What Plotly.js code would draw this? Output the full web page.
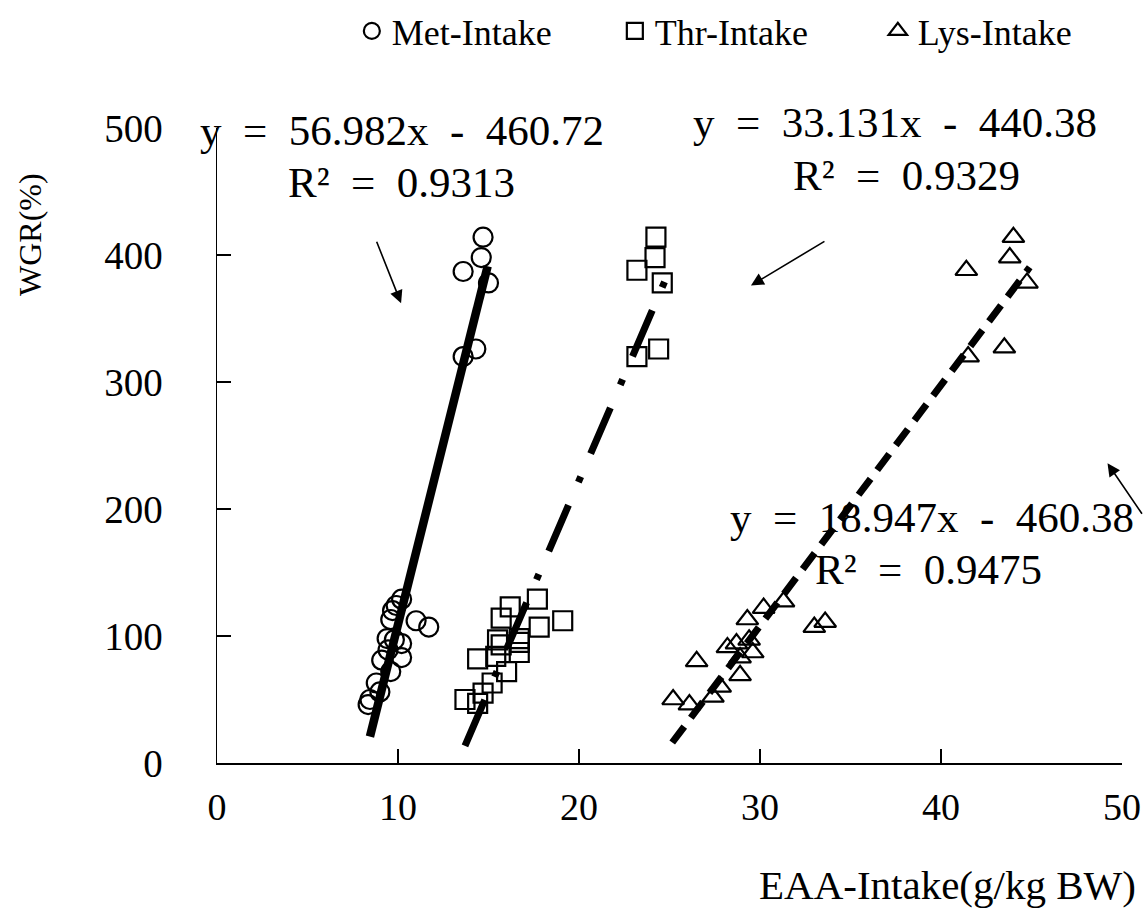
<!DOCTYPE html>
<html><head><meta charset="utf-8">
<script src="https://cdn.plot.ly/plotly-3.0.1.min.js"></script>
<style>body{margin:0;background:#fff}#chart{width:1143px;height:909px}</style>
</head><body><div id="chart"></div><script>
// Met-Intake (circles)
var metX = [14.7,14.6,13.6,15.0,14.3,13.6,10.2,9.9,9.7,9.6,11.0,11.7,9.4,9.8,10.2,9.45,10.2,9.1,9.6,8.8,9.0,8.45,8.35];
var metY = [414,398,387,378,326,320,129,124,120,113,112,107,98,97,94,89,83,81,72,63,56,50,46];
// Thr-Intake (squares)
var thrX = [24.25,24.2,23.2,24.6,24.4,23.2,17.7,16.2,15.7,17.8,19.1,15.5,16.7,16.7,14.4,15.7,16.7,15.4,16.0,15.2,14.7,13.7,14.4];
var thrY = [414,398,388,378,326,320,129,123,114,107,112,97,98,95,82,93,87,84,72,63,55,50,47];
// Lys-Intake (triangles)
var lysX = [44.0,43.8,41.4,44.75,43.5,41.5,31.3,30.2,29.3,33.6,33.0,28.2,28.7,29.4,29.6,28.9,26.5,28.9,27.8,27.4,25.2,26.1];
var lysY = [414,398,388,378,327,320,127,122,113,111,107,91,94,97,87,83,80,69,60,52,50,46];
// Fitted lines (slope, intercept, x extent)
var metFit = {slope:56.982, intercept:-460.72, x:[8.45,14.95]};
var thrFit = {slope:33.131, intercept:-440.38, x:[13.7,24.85]};
var lysFit = {slope:18.947, intercept:-460.38, x:[25.15,44.9]};
var eqTexts = ["y = 56.982x - 460.72","R² = 0.9313","y = 33.131x - 440.38","R² = 0.9329","y = 18.947x - 460.38","R² = 0.9475"];
var xTicks = [0,10,20,30,40,50];
var yTicks = [0,100,200,300,400,500];

function fitY(f){ return f.x.map(function(v){ return f.slope*v + f.intercept; }); }
function wide(t){ return t.replace(/ /g, '\u2002'); }

var F = 'Liberation Serif, DejaVu Serif, serif';
var traces = [
  {x: metFit.x, y: fitY(metFit), mode:'lines', line:{color:'black', width:8.5}, showlegend:false, hoverinfo:'skip'},
  {x: thrFit.x, y: fitY(thrFit), mode:'lines', line:{color:'black', width:7, dash:'50px,25px,6px,25px'}, showlegend:false, hoverinfo:'skip'},
  {x: lysFit.x, y: fitY(lysFit), mode:'lines', line:{color:'black', width:7, dash:'20px,11px'}, showlegend:false, hoverinfo:'skip'},
  {x: metX, y: metY, name:'Met-Intake', mode:'markers', marker:{symbol:'circle-open', size:19, color:'black', line:{width:2.2, color:'black'}}},
  {x: thrX, y: thrY, name:'Thr-Intake', mode:'markers', marker:{symbol:'square-open', size:19, color:'black', line:{width:2.2, color:'black'}}},
  {x: lysX, y: lysY, name:'Lys-Intake', mode:'markers', marker:{symbol:'triangle-up-open', size:19, color:'black', line:{width:2.2, color:'black'}}}
];

function eq(t, x, y){ return {text:wide(t), x:x, y:y, xref:'paper', yref:'paper', xanchor:'center', yanchor:'middle', showarrow:false, font:{family:F, size:43, color:'black'}}; }
function arrow(x, y, ax, ay){ return {text:'', x:x, y:y, xref:'x', yref:'y', ax:ax, ay:ay, showarrow:true, arrowhead:2, arrowsize:1.6, arrowwidth:1.6, arrowcolor:'black'}; }

var layout = {
  width:1143, height:909,
  margin:{l:217, r:21, t:128, b:146, autoexpand:false},
  paper_bgcolor:'white', plot_bgcolor:'white',
  showlegend:true,
  legend:{orientation:'h', x:0.149, xanchor:'left', y:1.2, yanchor:'top', font:{family:F, size:36, color:'black'},
          itemwidth:30, entrywidth:218, bgcolor:'rgba(0,0,0,0)'},
  xaxis:{range:[0,50], tickvals:xTicks, ticktext:xTicks.map(String), ticks:'inside', ticklen:14, tickwidth:1.5, tickcolor:'black',
         showline:true, linewidth:1.5, linecolor:'black', showgrid:false, zeroline:false,
         tickfont:{family:F, size:38, color:'black'}, ticklabelstandoff:10},
  yaxis:{range:[0,500], tickvals:yTicks, ticktext:yTicks.map(String), ticks:'inside', ticklen:14, tickwidth:1.5, tickcolor:'black',
         showline:true, linewidth:1.5, linecolor:'black', showgrid:false, zeroline:false,
         tickfont:{family:F, size:39, color:'black'}, ticklabelstandoff:45},
  annotations:[
    eq(eqTexts[0], 0.2044, 0.996), eq(eqTexts[1], 0.2044, 0.914),
    eq(eqTexts[2], 0.749, 1.009), eq(eqTexts[3], 0.762, 0.925),
    eq(eqTexts[4], 0.790, 0.387), eq(eqTexts[5], 0.786, 0.305),
    arrow(10.17, 362, -25, -63),
    arrow(29.5, 376, 75, -45),
    arrow(49.2, 236, 42, 52),
    {text:'EAA-Intake(g/kg BW)', xref:'paper', yref:'paper', x:1.0177, y:-0.192, xanchor:'right', yanchor:'middle', showarrow:false, font:{family:F, size:41, color:'black'}},
    {text:'WGR(%)', xref:'paper', yref:'paper', x:-0.2066, y:0.8315, xanchor:'center', yanchor:'middle', textangle:-90, showarrow:false, font:{family:F, size:32, color:'black'}}
  ]
};
Plotly.newPlot('chart', traces, layout, {displayModeBar:false, staticPlot:true});
</script></body></html>
